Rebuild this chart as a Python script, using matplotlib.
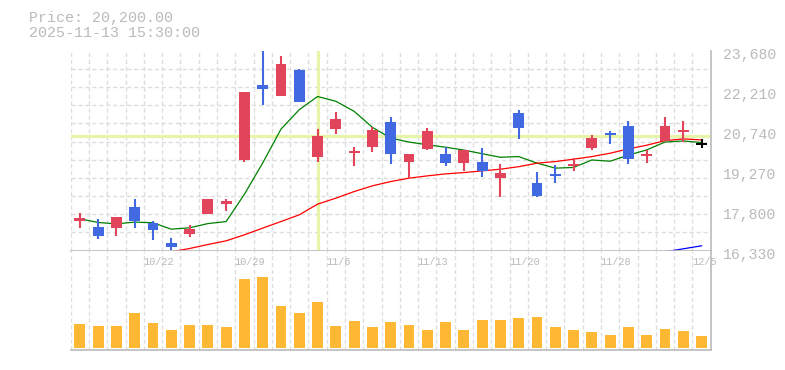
import numpy as np
import matplotlib
matplotlib.use("Agg")
import matplotlib.pyplot as plt
import matplotlib.transforms as mtransforms

# daily data
dates = ['10/16', '10/17', '10/20', '10/21', '10/22', '10/23', '10/24', '10/27', '10/28', '10/29',
         '10/30', '10/31', '11/4', '11/5', '11/6', '11/7', '11/10', '11/11', '11/12', '11/13',
         '11/14', '11/17', '11/18', '11/19', '11/20', '11/21', '11/25', '11/26', '11/27', '11/28',
         '12/1', '12/2', '12/3', '12/4', '12/5']
opens = [17430, 17200, 17175, 17935, 17350, 16615, 16955, 17690, 18055, 19675,
         22420, 22025, 22970, 19785, 20815, 19930, 20150, 21060, 19600, 20070,
         19885, 19565, 19590, 19015, 21390, 18805, 19150, 19455, 20115, 20645,
         20915, 19835, 20370, 20705, 20250]
highs = [17705, 17485, 17570, 18230, 17420, 16795, 17275, 18230, 18230, 22165,
         23800, 23495, 23000, 20805, 21440, 20150, 20885, 21245, 19885, 20840,
         20150, 20030, 20105, 19515, 21500, 19220, 19470, 19725, 20580, 20740,
         21095, 20030, 21255, 21095, 20445]
lows = [17175, 16770, 16880, 17140, 16700, 16330, 16845, 17655, 17800, 19600,
        21695, 22025, 21805, 19600, 20630, 19455, 19970, 19525, 19000, 20020,
        19455, 19260, 19050, 18280, 20445, 18315, 18830, 19270, 20030, 20260,
        19525, 19565, 20370, 20315, 20095]
closes = [17520, 16880, 17570, 17430, 17100, 16475, 17130, 18230, 18155, 22165,
          22285, 23190, 21805, 20545, 21170, 19995, 20765, 19895, 19885, 20730,
          19565, 20030, 19270, 19195, 20850, 18350, 19085, 19515, 20470, 20580,
          19710, 19860, 20915, 20730, 20250]
volumes = [243000, 220000, 220000, 353000, 253000, 183000, 233000, 233000, 213000, 690000,
           713000, 423000, 353000, 463000, 223000, 273000, 213000, 263000, 233000, 183000,
           263000, 183000, 283000, 283000, 303000, 313000, 213000, 183000, 163000, 133000,
           213000, 133000, 193000, 173000, 123000]
ma_short = [17495, 17360, 17310, 17375, 17350, 17115, 17165, 17320, 17395, 18400,
            19550, 20795, 21510, 21995, 21820, 21450, 20860, 20465, 20320, 20220,
            20130, 20025, 19890, 19760, 19785, 19545, 19360, 19385, 19660, 19615,
            19840, 20030, 20320, 20360, 20300]
ma_mid = [None, None, None, None, None, 16282, 16403, 16550, 16686, 16907,
          17153, 17396, 17642, 18035, 18256, 18498, 18708, 18866, 18991, 19075,
          19149, 19196, 19259, 19321, 19413, 19542, 19601, 19689, 19785, 19909,
          20068, 20203, 20372, 20435, 20398]
ma_long = [None] * 32 + [16282, 16392, 16503]

price_ticks = [16330, 17800, 19270, 20740, 22210, 23680]
date_labels = ['10/22', '10/29', '11/6', '11/13', '11/20', '11/28', '12/5']
title_lines = ['Price: 20,200.00', '2025-11-13 15:30:00']
cross_idx = 13

up_color = '#e2445c'
down_color = '#4169e1'
vol_color = '#ffb834'
grid_color = '#dddddd'
text_color = '#bababa'
mono = 'Liberation Mono'

fig = plt.figure(figsize=(7.85, 3.70), dpi=100)
ax = fig.add_axes([70.7 / 785, 119.5 / 370, 640 / 785, 199.8 / 370])
axv = fig.add_axes([70.7 / 785, 19.7 / 370, 640 / 785, 99.8 / 370])

x = np.arange(len(dates))

for a in (ax, axv):
    a.set_xlim(-0.5, len(dates) - 0.5)
    a.set_xticks(np.arange(-0.5, len(dates), 1), minor=True)
    a.set_xticks([])
    a.grid(which='minor', axis='x', color=grid_color, linestyle=(0, (3, 2)), linewidth=1.0)
    for side in ('top', 'left'):
        a.spines[side].set_visible(False)
    for side in ('right', 'bottom'):
        a.spines[side].set_color('#bbbbbb')
        a.spines[side].set_linewidth(1.2)
    a.set_axisbelow(True)
    a.tick_params(which='both', length=0)

# price panel
ax.set_ylim(16330, 23680)
ax.set_yticks(np.linspace(16330, 23680, 12), minor=True)
ax.grid(which='minor', axis='y', color=grid_color, linestyle=(0, (3, 2)), linewidth=1.0)
ax.yaxis.tick_right()
ax.set_yticks(price_ticks)
ax.set_yticklabels([f'{v:,}' for v in price_ticks], fontsize=10.6, color=text_color, family=mono)
ax.tick_params(axis='y', pad=9)
shift = mtransforms.ScaledTranslation(0, -2.5 / 100, fig.dpi_scale_trans)
for lab in ax.get_yticklabels():
    lab.set_transform(lab.get_transform() + shift)

# crosshair
ax.axvline(cross_idx, ymin=0.01, color='#e6f5a8', linewidth=2.3, zorder=1)
ax.axhline(closes[cross_idx], color='#e6f5a8', linewidth=2.3, zorder=1)

# moving averages
ma_s = np.array(ma_short, dtype=float)
ma_m = np.array([np.nan if v is None else v for v in ma_mid])
ma_l = np.array([np.nan if v is None else v for v in ma_long])
ax.plot(x, ma_s, color='#008000', linewidth=0.9, zorder=2, clip_on=False)
ax.plot(x, ma_m, color='#ff0000', linewidth=0.9, zorder=2, clip_on=False)
ax.plot(x, ma_l, color='#0000ff', linewidth=0.9, zorder=2, clip_on=False)

# candles
colors = []
for o, c in zip(opens, closes):
    if c > o:
        colors.append(up_color)
    elif c < o:
        colors.append(down_color)
    else:
        colors.append('#000000')
ax.vlines(x, lows, highs, colors=colors, linewidth=1.5, zorder=3)
bottoms = []
heights = []
for o, c in zip(opens, closes):
    h = abs(c - o)
    if h < 60:
        mid = (o + c) / 2
        bottoms.append(mid - 30)
        heights.append(60)
    else:
        bottoms.append(min(o, c))
        heights.append(h)
ax.bar(x, heights, bottom=bottoms, width=0.6, color=colors, zorder=3, linewidth=0)

# volume panel
axv.set_ylim(-23000, 975000)
axv.set_yticks([])
axv.bar(x, volumes, width=0.6, color=vol_color, zorder=2, linewidth=0)
trans = mtransforms.blended_transform_factory(axv.transData, axv.transAxes)
for i, d in enumerate(dates):
    if d in date_labels:
        axv.text(i - 0.53, 0.885, d, transform=trans, ha='left', va='center',
                 fontsize=7.4, color=text_color, family=mono, zorder=5, clip_on=False)

# header text
fig.text(29 / 785, 1 - 18 / 370, title_lines[0], ha='left', va='center',
         fontsize=10.8, color=text_color, family=mono)
fig.text(29 / 785, 1 - 33 / 370, title_lines[1], ha='left', va='center',
         fontsize=10.8, color=text_color, family=mono)

fig.savefig('out.png', dpi=100)
